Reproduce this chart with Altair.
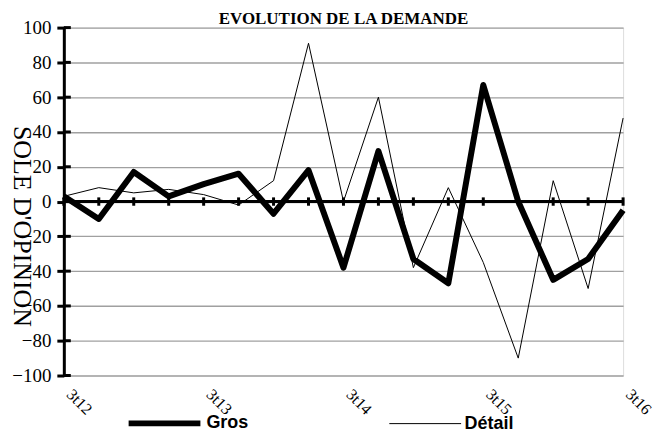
import altair as alt
import pandas as pd

quarters = ["3t12", "4t12", "1t13", "2t13", "3t13", "4t13", "1t14", "2t14", "3t14",
            "4t14", "1t15", "2t15", "3t15", "4t15", "1t16", "2t16", "3t16"]
gros = [3, -10, 17, 3, 10, 16, -7, 18, -38, 29, -33, -47, 67, 0, -45, -33, -5]
detail = [3, 8, 5, 7, 4, -2, 12, 91, 0, 60, -38, 8, -35, -90, 12, -50, 48]
series_names = ["Gros", "Détail"]
label_quarters = ["3t12", "3t13", "3t14", "3t15", "3t16"]
y_ticks = list(range(-100, 101, 20))

rows = []
for i, q in enumerate(quarters):
    rows.append({"quarter": q, "value": detail[i], "series": "Détail", "ord": 0})
for i, q in enumerate(quarters):
    rows.append({"quarter": q, "value": gros[i], "series": "Gros", "ord": 1})
df = pd.DataFrame(rows)
qdf = pd.DataFrame({"quarter": quarters})
tdf = pd.DataFrame({"value": y_ticks})

xscale = alt.Scale(type="point", padding=0, domain=quarters)
xaxis = alt.Axis(values=label_quarters, labelAngle=45, labelAlign="left",
                 labelBaseline="middle", labelPadding=16, labelOffset=5,
                 labelFont="Liberation Serif",
                 labelFontSize=16, labelColor="black", domain=False, ticks=False,
                 grid=False, title=None, labelOverlap=False)
yscale = alt.Scale(domain=[-100, 100], nice=False, zero=False)
yaxis = alt.Axis(values=y_ticks, grid=True, gridColor="#a0a0a0", gridWidth=1.3,
                 domainColor="black", domainWidth=3, tickColor="black", tickWidth=3,
                 tickSize=7, labelFont="Liberation Serif", labelFontSize=19,
                 labelColor="black", labelPadding=6, labelOverlap=False,
                 title="SOLE D'OPINION", titleAngle=90, titleFont="Liberation Serif",
                 titleFontSize=26, titleFontWeight="normal", titleColor="black",
                 titleAlign="center", titleBaseline="middle", titleX=-42, titleY=199)

xenc = alt.X("quarter:N", scale=xscale, axis=xaxis, sort=quarters)
yenc = alt.Y("value:Q", scale=yscale, axis=yaxis)

zero = alt.Chart(qdf).mark_rule(color="black", strokeWidth=3).encode(
    y=alt.Y(datum=0, scale=yscale, axis=yaxis))

inner_ticks = alt.Chart(tdf).mark_rule(color="black", strokeWidth=3).encode(
    x=alt.value(0), x2=alt.value(7), y=yenc)

cat_ticks = alt.Chart(qdf).mark_rule(color="black", strokeWidth=3).encode(
    x=xenc, y=alt.Y(datum=-2.4, scale=yscale, axis=yaxis), y2=alt.datum(2.4))

lines = alt.Chart(df).mark_line(color="black", strokeJoin="round", strokeCap="butt").encode(
    x=xenc, y=yenc,
    detail="series:N",
    order=alt.Order("ord:Q"),
    strokeWidth=alt.StrokeWidth(
        "series:N",
        scale=alt.Scale(domain=series_names, range=[6, 1]),
        legend=alt.Legend(title=None, orient="none", legendX=62, legendY=358,
                          direction="horizontal", symbolType="stroke",
                          symbolSize=5184, symbolStrokeColor="black",
                          labelFont="Liberation Sans", labelFontWeight="bold",
                          labelFontSize=18, labelColor="black", labelOffset=3,
                          columnPadding=138)))

chart = alt.layer(lines, zero, inner_ticks, cat_ticks).properties(
    width=561, height=349,
    autosize=alt.AutoSizeParams(type="none"),
    padding={"left": 56, "top": 19, "right": 32, "bottom": 57},
    title=alt.TitleParams("EVOLUTION DE LA DEMANDE", font="Liberation Serif",
                          fontSize=17, fontWeight="bold", color="black",
                          anchor="middle", offset=3, dy=12),
).configure_view(stroke=None).configure(background="white").configure_axis(
    labelOverlap=False)

chart.save("out.html", embed_options={"renderer": "svg", "actions": False})
